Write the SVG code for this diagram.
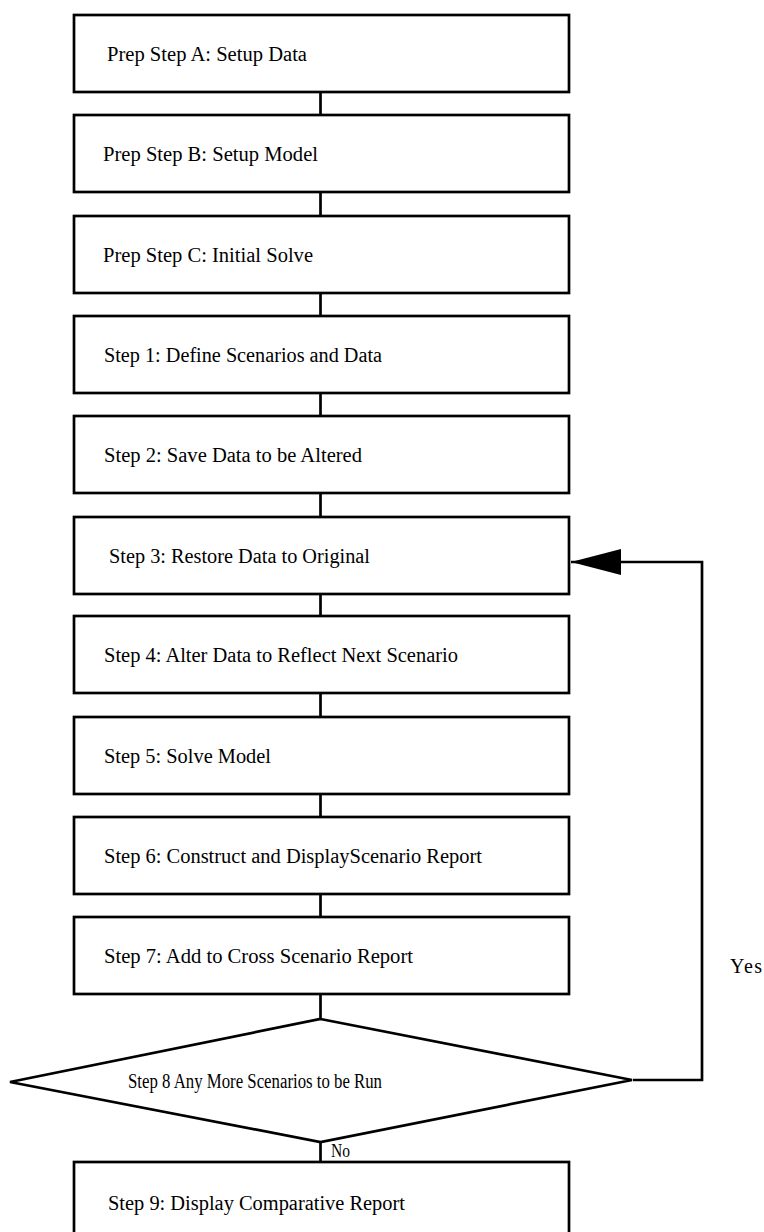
<svg xmlns="http://www.w3.org/2000/svg" width="764" height="1232" viewBox="0 0 764 1232">
<style>
.box{fill:#fff;stroke:#000;stroke-width:2.7}
.ln{fill:none;stroke:#000;stroke-width:2.7}
.t{font-family:"Liberation Serif","Times New Roman",serif;font-size:20px;fill:#000}
</style>
<defs>
<marker id="ah" markerUnits="userSpaceOnUse" markerWidth="52" markerHeight="28" refX="50" refY="14" orient="auto">
<path d="M0,1 L50,14 L0,27 Z" fill="#000"/>
</marker>
</defs>
<rect width="764" height="1232" fill="#fff"/>
<g id="connectors">
<line class="ln" x1="320.5" y1="92" x2="320.5" y2="115"/>
<line class="ln" x1="320.5" y1="192" x2="320.5" y2="216"/>
<line class="ln" x1="320.5" y1="293" x2="320.5" y2="316"/>
<line class="ln" x1="320.5" y1="393" x2="320.5" y2="416"/>
<line class="ln" x1="320.5" y1="493" x2="320.5" y2="517"/>
<line class="ln" x1="320.5" y1="594" x2="320.5" y2="616"/>
<line class="ln" x1="320.5" y1="693" x2="320.5" y2="717"/>
<line class="ln" x1="320.5" y1="794" x2="320.5" y2="817"/>
<line class="ln" x1="320.5" y1="894" x2="320.5" y2="917"/>
<line class="ln" x1="320.5" y1="994" x2="320.5" y2="1019"/>
<line class="ln" x1="320.5" y1="1142" x2="320.5" y2="1162"/>
<path class="ln" d="M633,1080 L702,1080 L702,562 L571,562" marker-end="url(#ah)"/>
<text class="t" x="730" y="973" textLength="32" lengthAdjust="spacing">Yes</text>
<text class="t" x="331" y="1157" style="font-size:18px" textLength="19" lengthAdjust="spacingAndGlyphs">No</text>
</g>
<g id="prepA"><rect class="box" x="74" y="15" width="495" height="77"/><text class="t" x="107" y="61" textLength="200" lengthAdjust="spacingAndGlyphs">Prep Step A: Setup Data</text></g>
<g id="prepB"><rect class="box" x="74" y="115" width="495" height="77"/><text class="t" x="103" y="161" textLength="215" lengthAdjust="spacingAndGlyphs">Prep Step B: Setup Model</text></g>
<g id="prepC"><rect class="box" x="74" y="216" width="495" height="77"/><text class="t" x="103" y="262" textLength="210" lengthAdjust="spacingAndGlyphs">Prep Step C: Initial Solve</text></g>
<g id="step1"><rect class="box" x="74" y="316" width="495" height="77"/><text class="t" x="104" y="362" textLength="278" lengthAdjust="spacingAndGlyphs">Step 1: Define Scenarios and Data</text></g>
<g id="step2"><rect class="box" x="74" y="416" width="495" height="77"/><text class="t" x="104" y="462" textLength="258" lengthAdjust="spacingAndGlyphs">Step 2: Save Data to be Altered</text></g>
<g id="step3"><rect class="box" x="74" y="517" width="495" height="77"/><text class="t" x="109" y="563" textLength="261" lengthAdjust="spacingAndGlyphs">Step 3: Restore Data to Original</text></g>
<g id="step4"><rect class="box" x="74" y="616" width="495" height="77"/><text class="t" x="104" y="662" textLength="354" lengthAdjust="spacingAndGlyphs">Step 4: Alter Data to Reflect Next Scenario</text></g>
<g id="step5"><rect class="box" x="74" y="717" width="495" height="77"/><text class="t" x="104" y="763" textLength="167" lengthAdjust="spacingAndGlyphs">Step 5: Solve Model</text></g>
<g id="step6"><rect class="box" x="74" y="817" width="495" height="77"/><text class="t" x="104" y="863" textLength="378" lengthAdjust="spacingAndGlyphs">Step 6: Construct and DisplayScenario Report</text></g>
<g id="step7"><rect class="box" x="74" y="917" width="495" height="77"/><text class="t" x="104" y="963" textLength="309" lengthAdjust="spacingAndGlyphs">Step 7: Add to Cross Scenario Report</text></g>
<g id="step8"><polygon class="box" points="320.5,1019 632,1080 320.5,1142 10,1082"/><text class="t" x="128" y="1088" textLength="254" lengthAdjust="spacingAndGlyphs">Step 8 Any More Scenarios to be Run</text></g>
<g id="step9"><rect class="box" x="74" y="1162" width="495" height="100"/><text class="t" x="108" y="1210" textLength="297" lengthAdjust="spacingAndGlyphs">Step 9: Display Comparative Report</text></g>
</svg>
